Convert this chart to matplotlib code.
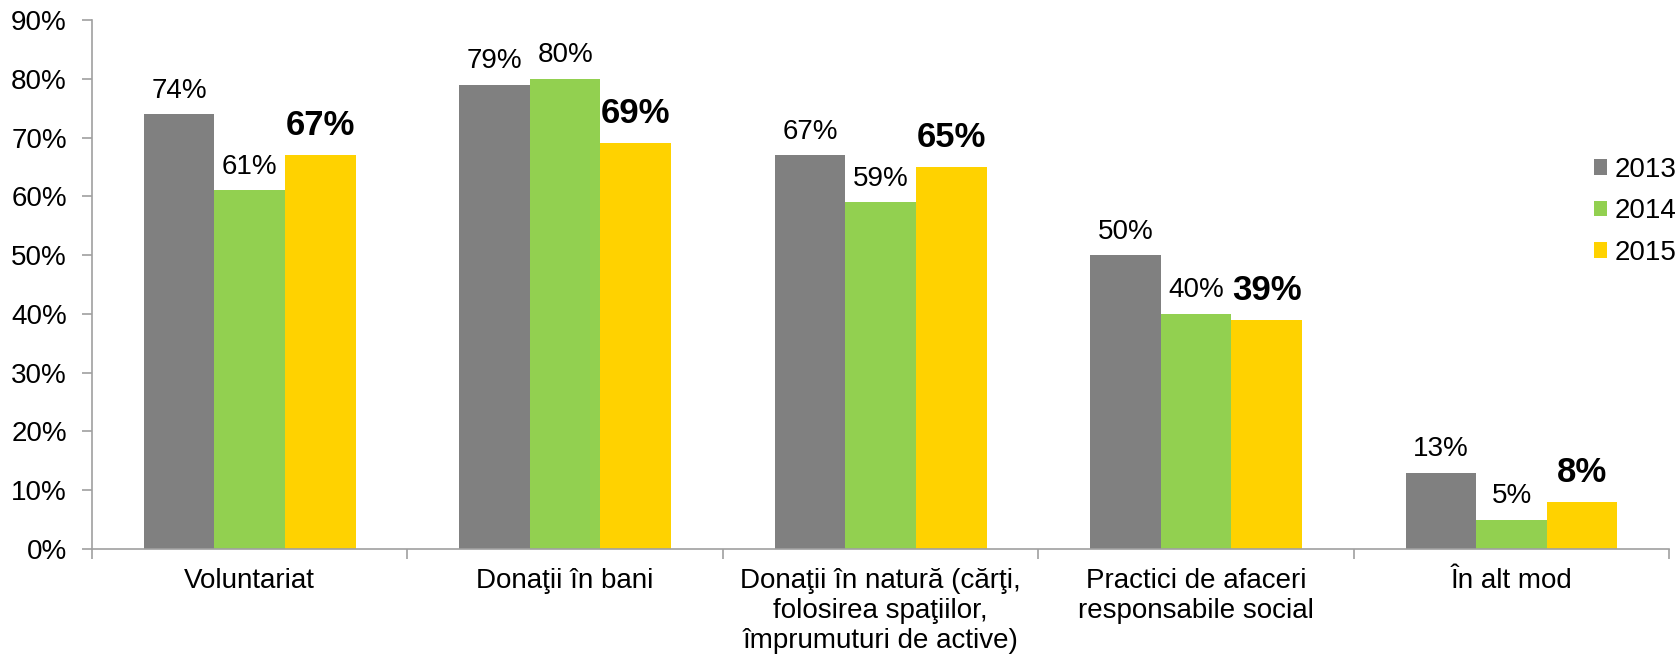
import numpy as np
import matplotlib
matplotlib.use('Agg')
import matplotlib.pyplot as plt
from matplotlib.ticker import FuncFormatter

# date
categories = ['Voluntariat', 'Donaţii în bani',
              'Donaţii în natură (cărţi,\nfolosirea spaţiilor,\nîmprumuturi de active)',
              'Practici de afaceri\nresponsabile social', 'În alt mod']
years = ['2013', '2014', '2015']
v2013 = [74, 79, 67, 50, 13]
v2014 = [61, 80, 59, 40, 5]
v2015 = [67, 69, 65, 39, 8]
colors = ['#808080', '#92D050', '#FFD200']

plt.rcParams['font.family'] = ['Liberation Sans', 'DejaVu Sans']

fig = plt.figure(figsize=(16.81, 6.54), dpi=100)
ax = fig.add_axes([0.0547, 0.1606, 0.9383, 0.8088])

x = np.arange(len(categories))
w = 0.224
series = [v2013, v2014, v2015]
for i, (vals, c, yr) in enumerate(zip(series, colors, years)):
    pos = x + (i - 1) * w
    ax.bar(pos, vals, width=w, color=c, label=yr, edgecolor='none')
    for px, v in zip(pos, vals):
        if i == 2:
            # 2015 evidentiat cu bold
            ax.annotate(f'{v}%', (px, v), xytext=(0, 9.5), textcoords='offset points',
                        ha='center', va='bottom', fontsize=25, fontweight='bold')
        else:
            ax.annotate(f'{v}%', (px, v), xytext=(0, 7.5), textcoords='offset points',
                        ha='center', va='bottom', fontsize=20)

ax.set_xlim(-0.5, len(categories) - 0.5)
ax.set_ylim(0, 90)
ax.set_yticks(np.arange(0, 91, 10))
ax.yaxis.set_major_formatter(FuncFormatter(lambda v, p: f'{v:.0f}%'))
ax.tick_params(axis='y', labelsize=20, length=7, width=1.2, color='#A0A0A0', pad=11)

# ticks la granitele categoriilor, etichete centrate
ax.set_xticks(np.arange(-0.5, len(categories), 1.0))
ax.set_xticklabels([])
ax.set_xticks(x, minor=True)
ax.set_xticklabels(categories, minor=True, fontsize=20, linespacing=1.2)
ax.tick_params(axis='x', which='major', length=7, width=1.2, color='#A0A0A0')
ax.tick_params(axis='x', which='minor', length=0, pad=14)

for s in ['top', 'right']:
    ax.spines[s].set_visible(False)
for s in ['left', 'bottom']:
    ax.spines[s].set_color('#A0A0A0')
    ax.spines[s].set_linewidth(1.2)

ax.legend(loc='upper left', bbox_to_anchor=(0.952, 0.741), frameon=False, fontsize=20,
          handlelength=0.5, handleheight=0.5, handletextpad=0.25, labelspacing=0.55,
          borderaxespad=0, borderpad=0)

fig.savefig('out.png', dpi=100)
